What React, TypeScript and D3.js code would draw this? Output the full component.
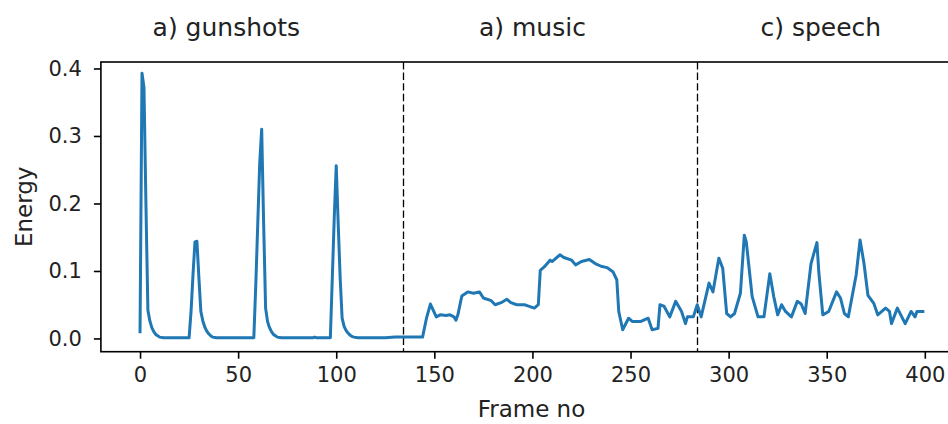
import React, { useEffect, useRef } from 'react';
import * as d3 from 'd3';

// frame numbers and energy values
const frames = [
  0, 1, 2, 3, 4, 5, 6, 7, 8, 9, 10, 12, 25, 26, 27, 28, 29, 30, 31, 32, 33, 34, 35, 36, 37, 39,
  58, 59, 60, 61, 62, 63, 64, 65, 66, 67, 68, 69, 70, 72, 88, 89, 90,
  97, 98, 99, 100, 101, 102, 103, 104, 105, 106, 107, 108, 109, 111, 125, 130, 134, 140, 144,
  146, 148, 151, 153, 156, 158, 160, 161, 162, 164, 167, 170, 173, 175, 179, 181, 184, 187, 189,
  192, 196, 198, 201, 203, 204, 206, 209, 210, 214, 216, 220, 222, 225, 229, 232, 235, 238, 241,
  243, 244, 246, 249, 251, 255, 259, 261, 264, 265, 267, 270, 273, 275, 276, 278, 279, 282, 284,
  286, 290, 292, 295, 297, 299, 301, 303, 306, 308, 309, 312, 315, 318, 321, 323, 325, 327, 329,
  332, 335, 337, 339, 342, 345, 346, 348, 351, 355, 357, 359, 361, 365, 367, 369, 371, 374, 376,
  380, 382, 383, 386, 390, 393, 395, 396, 399
];
const energy = [
  0.010, 0.393, 0.372, 0.20, 0.042, 0.026, 0.016, 0.010, 0.006, 0.004, 0.002, 0.001, 0.001, 0.04,
  0.095, 0.143, 0.144, 0.09, 0.04, 0.026, 0.017, 0.011, 0.007, 0.004, 0.002, 0.001,
  0.001, 0.08, 0.17, 0.26, 0.310, 0.17, 0.045, 0.025, 0.016, 0.010, 0.006, 0.004, 0.002, 0.001,
  0.001, 0.002, 0.001,
  0.001, 0.09, 0.18, 0.256, 0.17, 0.09, 0.03, 0.018, 0.012, 0.008, 0.005, 0.003, 0.002, 0.001,
  0.001, 0.002, 0.002, 0.002, 0.002,
  0.03, 0.051, 0.032, 0.035, 0.034, 0.035, 0.032, 0.027, 0.035, 0.063, 0.069, 0.067, 0.069, 0.060,
  0.056, 0.050, 0.053, 0.058, 0.053, 0.050, 0.050, 0.048, 0.045, 0.050, 0.101, 0.106, 0.116, 0.114,
  0.124, 0.120, 0.116, 0.109, 0.114, 0.117, 0.111, 0.107, 0.105, 0.099, 0.087, 0.040, 0.013, 0.030,
  0.025, 0.025, 0.030, 0.013, 0.015, 0.050, 0.048, 0.032, 0.055, 0.045, 0.040, 0.022, 0.032, 0.032,
  0.050, 0.032, 0.082, 0.069, 0.119, 0.104, 0.037, 0.032, 0.037, 0.067, 0.153, 0.143, 0.062, 0.032,
  0.032, 0.096, 0.062, 0.035, 0.050, 0.040, 0.032, 0.055, 0.051, 0.037, 0.111, 0.142, 0.097, 0.035,
  0.040, 0.069, 0.060, 0.037, 0.032, 0.094, 0.146, 0.111, 0.064, 0.052, 0.035, 0.045, 0.040, 0.022,
  0.045, 0.022, 0.040, 0.032, 0.040, 0.040
];

const segmentBounds = [134, 284];
const segmentTitles = ['a) gunshots', 'a) music', 'c) speech'];
const titleFrames = [44, 200, 347];
const xTicks = [0, 50, 100, 150, 200, 250, 300, 350, 400];
const yTicks = [0.0, 0.1, 0.2, 0.3, 0.4];

const App = () => {
  const svgRef = useRef(null);

  useEffect(() => {
    const svg = d3.select(svgRef.current);
    svg.selectAll('*').remove();

    const left = 100.9, right = 962, top = 62, bottom = 351.7;
    const font = 'DejaVu Sans, sans-serif';

    const x = d3.scaleLinear().domain([-19.95, 418.95]).range([left, right]);
    const y = d3.scaleLinear().domain([-0.0196, 0.4096]).range([bottom, top]);

    const data = frames.map((f, i) => ({ f, e: energy[i] }));

    // dashed separators
    svg.selectAll('line.sep')
      .data(segmentBounds)
      .enter().append('line')
      .attr('class', 'sep')
      .attr('x1', d => Math.round(x(d)) + 0.5).attr('x2', d => Math.round(x(d)) + 0.5)
      .attr('y1', top).attr('y2', bottom)
      .attr('stroke', '#000')
      .attr('stroke-width', 1.3)
      .attr('stroke-dasharray', '7.4,3.2');

    const line = d3.line()
      .x(d => x(d.f))
      .y(d => y(d.e));

    svg.append('path')
      .datum(data)
      .attr('d', line)
      .attr('fill', 'none')
      .attr('stroke', '#1f77b4')
      .attr('stroke-width', 3)
      .attr('stroke-linejoin', 'round')
      .attr('stroke-linecap', 'square');

    // x axis
    const xAxis = svg.append('g')
      .attr('transform', `translate(0,${bottom})`)
      .call(d3.axisBottom(x).tickValues(xTicks).tickSize(7).tickPadding(8).tickFormat(d3.format('d')));
    xAxis.select('.domain').remove();
    xAxis.selectAll('.tick line').attr('stroke', '#000').attr('stroke-width', 1.6);
    xAxis.selectAll('.tick text')
      .attr('font-family', font).attr('font-size', 21).attr('fill', '#222');

    // y axis
    const yAxis = svg.append('g')
      .attr('transform', `translate(${left},0)`)
      .call(d3.axisLeft(y).tickValues(yTicks).tickSize(7).tickPadding(12).tickFormat(d3.format('.1f')));
    yAxis.select('.domain').remove();
    yAxis.selectAll('.tick line').attr('stroke', '#000').attr('stroke-width', 1.6);
    yAxis.selectAll('.tick text')
      .attr('font-family', font).attr('font-size', 21).attr('fill', '#222');

    // spines
    svg.append('rect')
      .attr('x', left).attr('y', top)
      .attr('width', right - left).attr('height', bottom - top)
      .attr('fill', 'none')
      .attr('stroke', '#000')
      .attr('stroke-width', 1.6);

    // labels
    svg.append('text')
      .attr('x', (left + right) / 2).attr('y', 417)
      .attr('text-anchor', 'middle')
      .attr('font-family', font).attr('font-size', 23).attr('fill', '#222')
      .text('Frame no');

    svg.append('text')
      .attr('transform', `translate(32,${(top + bottom) / 2}) rotate(-90)`)
      .attr('text-anchor', 'middle')
      .attr('font-family', font).attr('font-size', 23).attr('fill', '#222')
      .text('Energy');

    svg.selectAll('text.title')
      .data(segmentTitles)
      .enter().append('text')
      .attr('class', 'title')
      .attr('x', (d, i) => x(titleFrames[i]))
      .attr('y', 36)
      .attr('text-anchor', 'middle')
      .attr('font-family', font).attr('font-size', 25).attr('fill', '#222')
      .text(d => d);
  }, []);

  return (
    <svg ref={svgRef} width={948} height={424}
      style={{ position: 'absolute', left: 0, top: 0, background: '#fff' }} />
  );
};

export default App;
